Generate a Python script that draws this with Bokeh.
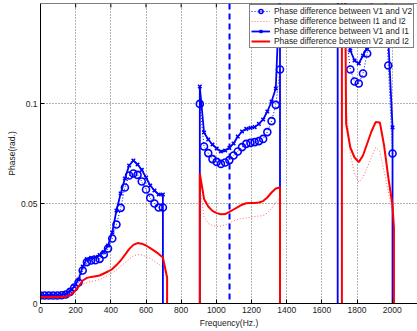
from bokeh.plotting import figure
from bokeh.models import Range1d, FixedTicker, Span, Legend, LegendItem
from bokeh.embed import file_html
from bokeh.resources import INLINE

# ---------------- data ----------------
x_ticks = [0, 200, 400, 600, 800, 1000, 1200, 1400, 1600, 1800, 2000]
y_ticks = [0, 0.05, 0.1]
y_tick_labels = ["0", "0.05", "0.1"]
x_lim = (0, 2144)
y_lim = (0, 0.15)

# frequency grids of the three measured bands (Hz)
freq_blue_a = [0, 24, 48, 72, 96, 120, 144, 168, 192, 216, 240, 264, 288, 312, 336,
               360, 384, 408, 432, 456, 480, 504, 528, 552, 576, 600, 624, 648, 672, 696]
freq_red_a = freq_blue_a + [720]
freq_b = [906, 930, 954, 978, 1002, 1026, 1050, 1074, 1098, 1122, 1146, 1170, 1194,
          1218, 1242, 1266, 1290, 1314, 1338, 1362]
freq_blue_c = [1690, 1714, 1738, 1762, 1786, 1810, 1834, 1858, 1882, 1906, 1930, 1954,
               1978, 2002]
freq_red_c = [1714, 1738, 1762, 1786, 1810, 1834, 1858, 1882, 1906, 1930, 1954, 1978,
              2002, 2010]

# Phase difference between V1 and V2
v1v2_a = [0.0040, 0.0040, 0.0040, 0.0040, 0.0040, 0.0041, 0.0045, 0.0058, 0.0080, 0.0105,
          0.0165, 0.0207, 0.0215, 0.0216, 0.0223, 0.0245, 0.0275, 0.0325, 0.0395, 0.0478,
          0.0580, 0.0640, 0.0650, 0.0643, 0.0610, 0.0570, 0.0528, 0.0500, 0.0480, 0.0480]
v1v2_b = [0.0998, 0.0785, 0.0752, 0.0722, 0.0708, 0.0698, 0.0705, 0.0717, 0.0740, 0.0760,
          0.0782, 0.0798, 0.0803, 0.0807, 0.0812, 0.0823, 0.0857, 0.0912, 0.0993, 0.1170]
v1v2_c = [0.40, 0.150, 0.135, 0.117, 0.111, 0.110, 0.115, 0.125, 0.160, 0.200, 0.200,
          0.160, 0.119, 0.075]

# Phase difference between I1 and I2
i1i2_a = [0.0025, 0.0025, 0.0025, 0.0026, 0.0026, 0.0027, 0.0030, 0.0036, 0.0055, 0.0078,
          0.0095, 0.0105, 0.0110, 0.0114, 0.0120, 0.0130, 0.0142, 0.0153, 0.0168, 0.0186,
          0.0203, 0.0222, 0.0238, 0.0245, 0.0243, 0.0235, 0.0225, 0.0212, 0.0197, 0.0180,
          0.0130]
i1i2_b = [0.0580, 0.0435, 0.0400, 0.0390, 0.0385, 0.0387, 0.0393, 0.0402, 0.0413, 0.0420,
          0.0425, 0.0428, 0.0432, 0.0435, 0.0437, 0.0440, 0.0452, 0.0475, 0.0505, 0.0525]
i1i2_c = [0.35, 0.100, 0.075, 0.065, 0.0607, 0.063, 0.068, 0.073, 0.078, 0.076, 0.066,
          0.056, 0.045, 0.036]

# Phase difference between V1 and I1
v1i1_a = [0.0040, 0.0040, 0.0040, 0.0041, 0.0042, 0.0043, 0.0048, 0.0062, 0.0085, 0.0120,
          0.0185, 0.0222, 0.0228, 0.0232, 0.0242, 0.0257, 0.0290, 0.0355, 0.0465, 0.0550,
          0.0625, 0.0690, 0.0715, 0.0695, 0.0668, 0.0630, 0.0590, 0.0565, 0.0545, 0.0545]
v1i1_b = [0.1085, 0.0855, 0.0820, 0.0795, 0.0775, 0.0760, 0.0765, 0.0778, 0.0800, 0.0835,
          0.0860, 0.0873, 0.0878, 0.0882, 0.0898, 0.0920, 0.0960, 0.1010, 0.1075, 0.1600]
v1i1_c = [0.40, 0.200, 0.140, 0.1265, 0.1215, 0.120, 0.124, 0.128, 0.148, 0.200, 0.200,
          0.160, 0.132, 0.088]

# Phase difference between V2 and I2
v2i2_a = [0.0032, 0.0032, 0.0032, 0.0033, 0.0033, 0.0034, 0.0035, 0.0042, 0.0058, 0.0085,
          0.0115, 0.0128, 0.0133, 0.0136, 0.0140, 0.0150, 0.0160, 0.0172, 0.0192, 0.0215,
          0.0243, 0.0272, 0.0293, 0.0302, 0.0299, 0.0290, 0.0277, 0.0263, 0.0248, 0.0230,
          0.0130]
v2i2_b = [0.0650, 0.0523, 0.0485, 0.0463, 0.0452, 0.0446, 0.0447, 0.0458, 0.0470, 0.0482,
          0.0494, 0.0501, 0.0502, 0.0502, 0.0505, 0.0512, 0.0530, 0.0555, 0.0575, 0.0580]
v2i2_c = [0.40, 0.090, 0.078, 0.073, 0.0707, 0.074, 0.080, 0.086, 0.0907, 0.0905, 0.079,
          0.063, 0.049, 0.038]

marker_freq = 1075      # dashed vertical marker
wrapped = -3.0          # phase outside the measured bands (below the axis)

labels = ["Phase difference between V1 and V2", "Phase difference between I1 and I2",
          "Phase difference between V1 and I1", "Phase difference between V2 and I2"]


def join(segments):
    xs, ys = [], []
    for i, (f, v) in enumerate(segments):
        if i > 0:
            xs.append(f[0]); ys.append(wrapped)
        xs += list(f); ys += list(v)
        xs.append(f[-1]); ys.append(wrapped)
    return xs, ys


def pts(segments):
    xs, ys = [], []
    for f, v in segments:
        xs += list(f); ys += list(v)
    return xs, ys


seg_v1v2 = [(freq_blue_a, v1v2_a), (freq_b, v1v2_b), (freq_blue_c, v1v2_c)]
seg_i1i2 = [(freq_red_a, i1i2_a), (freq_b, i1i2_b), (freq_red_c, i1i2_c)]
seg_v1i1 = [(freq_blue_a, v1i1_a), (freq_b, v1i1_b), (freq_blue_c, v1i1_c)]
seg_v2i2 = [(freq_red_a, v2i2_a), (freq_b, v2i2_b), (freq_red_c, v2i2_c)]

# ---------------- figure ----------------
FONT = "Liberation Sans"
W, H = 417, 331
B_LEFT, B_TOP, B_BOTTOM = 40, 3, 28
p = figure(width=W, height=H, output_backend="svg", toolbar_location=None,
           x_range=Range1d(*x_lim), y_range=Range1d(*y_lim),
           min_border_left=B_LEFT, min_border_right=0, min_border_top=B_TOP,
           min_border_bottom=B_BOTTOM,
           x_axis_label="Frequency(Hz.)", y_axis_label="Phase(rad.)")
p.outline_line_color = None
p.background_fill_color = "white"
p.border_fill_color = "white"

for ax in (p.xaxis[0], p.yaxis[0]):
    ax.major_tick_in = 4
    ax.major_tick_out = 0
    ax.minor_tick_line_color = None
    ax.axis_line_color = "black"
    ax.major_tick_line_color = "black"
    ax.major_label_text_font = FONT
    ax.major_label_text_font_size = "8.5px"
    ax.major_label_text_color = "#222222"
    ax.axis_label_text_font = FONT
    ax.axis_label_text_font_size = "8.5px"
    ax.axis_label_text_font_style = "normal"
    ax.axis_label_text_color = "#222222"

p.xaxis.ticker = FixedTicker(ticks=x_ticks)
p.yaxis.ticker = FixedTicker(ticks=y_ticks)
p.yaxis.major_label_overrides = dict(zip(y_ticks, y_tick_labels))
p.xaxis.major_label_standoff = 3
p.yaxis.major_label_standoff = 3
p.xaxis.axis_label_standoff = 2
p.yaxis.axis_label_standoff = 1

# top frame line with inward ticks (MATLAB box)
p.add_layout(Span(location=y_lim[1], dimension="width", line_color="black", line_width=1))
frame_h = H - B_TOP - B_BOTTOM
tick_len = 4 * (y_lim[1] - y_lim[0]) / frame_h
p.segment(x0=x_ticks, y0=[y_lim[1]] * len(x_ticks), x1=x_ticks,
          y1=[y_lim[1] - tick_len] * len(x_ticks), line_color="black", line_width=1)

p.xgrid.ticker = FixedTicker(ticks=x_ticks)
p.ygrid.ticker = FixedTicker(ticks=y_ticks)
for g in (p.xgrid[0], p.ygrid[0]):
    g.grid_line_color = "#666666"
    g.grid_line_dash = "1 2"
    g.grid_line_width = 1

BLUE = "#0000ff"
RED = "#ff0000"

# V1-V2: blue dotted line with circles
x, y = join(seg_v1v2)
r1l = p.line(x, y, line_color=BLUE, line_width=1, line_dash="1 2")
x, y = pts(seg_v1v2)
r1m = p.scatter(x, y, marker="circle", size=7, line_color=BLUE, line_width=1.6,
                fill_color=None)

# I1-I2: red dotted
x, y = join(seg_i1i2)
r2 = p.line(x, y, line_color=RED, line_width=1, line_dash="1 2", line_alpha=0.6)

# V1-I1: blue solid with x markers
x, y = join(seg_v1i1)
r3l = p.line(x, y, line_color=BLUE, line_width=1.8)
x, y = pts(seg_v1i1)
r3m = p.scatter(x, y, marker="x", size=5, line_color=BLUE, line_width=1.5)

# V2-I2: red solid
x, y = join(seg_v2i2)
r4 = p.line(x, y, line_color=RED, line_width=2)

p.add_layout(Span(location=marker_freq, dimension="height", line_color=BLUE,
                  line_width=2, line_dash="6 4"))

legend = Legend(items=[LegendItem(label=labels[0], renderers=[r1l, r1m]),
                       LegendItem(label=labels[1], renderers=[r2]),
                       LegendItem(label=labels[2], renderers=[r3l, r3m]),
                       LegendItem(label=labels[3], renderers=[r4])],
                location=(209, 255), orientation="vertical",
                label_text_font=FONT, label_text_font_size="8.4px",
                label_text_color="#222222",
                label_height=10, glyph_height=10, glyph_width=19, label_standoff=4,
                spacing=0, padding=1, margin=0,
                border_line_color="black", border_line_width=1,
                background_fill_color="white", background_fill_alpha=1)
p.add_layout(legend, "center")

open("out.html", "w").write(file_html(p, INLINE))
